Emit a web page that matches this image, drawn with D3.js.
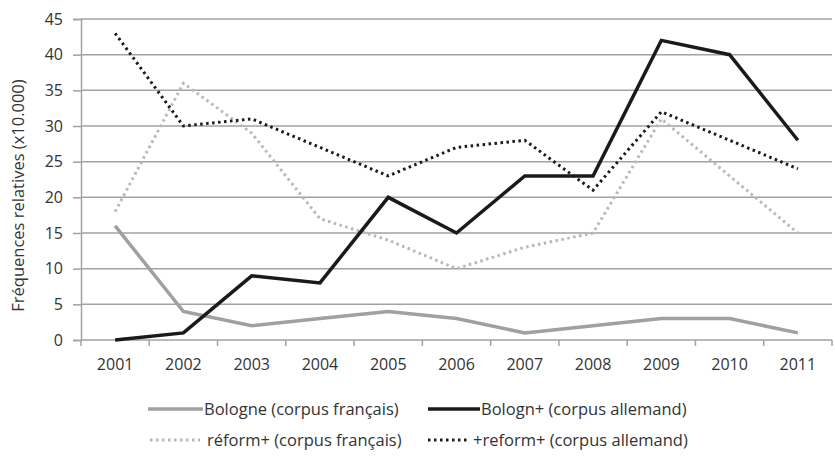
<!DOCTYPE html>
<html>
<head>
<meta charset="utf-8">
<script src="https://cdn.jsdelivr.net/npm/d3@7"></script>
<style>
  body { margin: 0; background: #fff; }
  svg text { font-family: "Open Sans", "Liberation Sans", sans-serif; fill: #333; }
</style>
</head>
<body>
<div id="chart"></div>
<script>
// années et séries (fréquences relatives x10.000)
const years = ['2001', '2002', '2003', '2004', '2005', '2006', '2007', '2008', '2009', '2010', '2011'];
const bologneFr = [16, 4, 2, 3, 4, 3, 1, 2, 3, 3, 1];
const bolognDe = [0, 1, 9, 8, 20, 15, 23, 23, 42, 40, 28];
const reformFr = [18, 36, 29, 17, 14, 10, 13, 15, 31, 23, 15];
const reformDe = [43, 30, 31, 27, 23, 27, 28, 21, 32, 28, 24];
const yTicks = [0, 5, 10, 15, 20, 25, 30, 35, 40, 45];
const seriesNames = [
  'Bologne (corpus français)',
  'Bologn+ (corpus allemand)',
  'réform+ (corpus français)',
  '+reform+ (corpus allemand)'
];

const width = 835, height = 462;
const margin = { top: 19, right: 3, bottom: 122, left: 81 };
const gridColor = '#a2a2a2';

const svg = d3.select('#chart').append('svg')
  .attr('width', width)
  .attr('height', height);

const x = d3.scaleBand()
  .domain(years)
  .range([margin.left, width - margin.right]);

const y = d3.scaleLinear()
  .domain([0, 45])
  .range([height - margin.bottom, margin.top]);

// grille horizontale
svg.append('g')
  .selectAll('line')
  .data(yTicks)
  .enter()
  .append('line')
  .attr('x1', margin.left)
  .attr('x2', width - margin.right)
  .attr('y1', d => y(d))
  .attr('y2', d => y(d))
  .attr('stroke', gridColor)
  .attr('stroke-width', 1.5);

// axe Y
const yAxis = svg.append('g')
  .attr('transform', `translate(${margin.left},0)`)
  .call(d3.axisLeft(y).tickValues(yTicks).tickSize(8).tickPadding(10));
yAxis.select('.domain').attr('stroke', gridColor).attr('stroke-width', 1.5);
yAxis.selectAll('.tick line').attr('stroke', gridColor).attr('stroke-width', 1.5);
yAxis.selectAll('text').style('font-size', '16px').attr('fill', '#333');

// axe X (graduations entre les catégories)
const xAxis = svg.append('g')
  .attr('transform', `translate(0,${y(0)})`)
  .call(d3.axisBottom(x).tickSize(0).tickPadding(19));
xAxis.select('.domain').remove();
xAxis.selectAll('text').style('font-size', '16px').attr('fill', '#333');

svg.append('g')
  .selectAll('line')
  .data(years.concat(['end']))
  .enter()
  .append('line')
  .attr('x1', (d, i) => margin.left + i * x.bandwidth())
  .attr('x2', (d, i) => margin.left + i * x.bandwidth())
  .attr('y1', y(0))
  .attr('y2', y(0) + 6)
  .attr('stroke', gridColor)
  .attr('stroke-width', 1.5);

// titre de l'axe Y
svg.append('text')
  .attr('transform', `translate(24,${(margin.top + y(0)) / 2 + 16}) rotate(-90)`)
  .attr('text-anchor', 'middle')
  .style('font-size', '16.5px')
  .text('Fréquences relatives (x10.000)');

const series = [
  { name: seriesNames[0], values: bologneFr, color: '#a0a0a0', width: 3.5, dash: null },
  { name: seriesNames[1], values: bolognDe, color: '#1a1a1a', width: 3.5, dash: null },
  { name: seriesNames[2], values: reformFr, color: '#b8b8b8', width: 3, dash: '2.5,3.5' },
  { name: seriesNames[3], values: reformDe, color: '#1a1a1a', width: 3, dash: '2.5,3.5' }
];

const line = d3.line()
  .x((d, i) => x(years[i]) + x.bandwidth() / 2)
  .y(d => y(d));

// ordre de dessin : séries françaises en dessous
[2, 0, 3, 1].forEach(k => {
  const s = series[k];
  svg.append('path')
    .datum(s.values)
    .attr('fill', 'none')
    .attr('stroke', s.color)
    .attr('stroke-width', s.width)
    .attr('stroke-dasharray', s.dash)
    .attr('stroke-linejoin', 'miter')
    .attr('d', line);
});

// légende
const legendPos = [
  { x: 148, y: 409, len: 55, gap: 1 },
  { x: 428, y: 409, len: 52, gap: 1 },
  { x: 150, y: 440, len: 50, gap: 7 },
  { x: 428, y: 440, len: 40, gap: 5 }
];

series.forEach((s, i) => {
  const p = legendPos[i];
  const g = svg.append('g').attr('transform', `translate(${p.x},${p.y})`);
  g.append('line')
    .attr('x1', 0)
    .attr('x2', p.len)
    .attr('stroke', s.color)
    .attr('stroke-width', s.width)
    .attr('stroke-dasharray', s.dash);
  g.append('text')
    .attr('x', p.len + p.gap)
    .attr('dy', '0.35em')
    .style('font-size', '16.5px')
    .text(s.name);
});
</script>
</body>
</html>
